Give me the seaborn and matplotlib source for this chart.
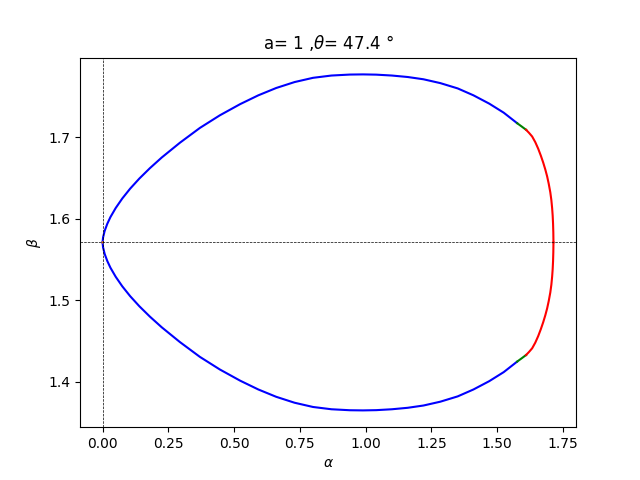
import seaborn as sns
import matplotlib.pyplot as plt
import numpy as np

# blue part, upper and lower branch (same alpha values)
alpha_b = [0.000, 0.002, 0.008, 0.018, 0.030, 0.050, 0.075, 0.105, 0.140, 0.180, 0.225, 0.294,
           0.370, 0.446, 0.523, 0.592, 0.660, 0.730, 0.800, 0.870, 0.940, 0.990, 1.040, 1.100,
           1.160, 1.220, 1.284, 1.350, 1.410, 1.470, 1.525, 1.576]
beta_b_up = [1.5708, 1.5769, 1.5849, 1.5936, 1.6019, 1.6130, 1.6247, 1.6368, 1.6492, 1.6619, 1.6750, 1.6931,
             1.7113, 1.7268, 1.7405, 1.7513, 1.7603, 1.7676, 1.7728, 1.7756, 1.7768, 1.7770, 1.7767, 1.7756,
             1.7738, 1.7710, 1.7663, 1.7598, 1.7513, 1.7411, 1.7300, 1.7171]
beta_b_lo = [1.5708, 1.5647, 1.5567, 1.5480, 1.5397, 1.5286, 1.5169, 1.5048, 1.4924, 1.4797, 1.4666, 1.4485,
             1.4303, 1.4148, 1.4011, 1.3903, 1.3813, 1.3740, 1.3688, 1.3660, 1.3648, 1.3646, 1.3649, 1.3660,
             1.3678, 1.3706, 1.3753, 1.3818, 1.3903, 1.4005, 1.4116, 1.4245]

# short green pieces
alpha_g = [1.576, 1.593, 1.610]
beta_g_up = [1.7171, 1.7131, 1.7090]
beta_g_lo = [1.4245, 1.4285, 1.4326]

# red part near the right end
alpha_r = [1.610, 1.621, 1.633, 1.645, 1.656, 1.666, 1.675, 1.683, 1.690, 1.696, 1.702, 1.706,
           1.709, 1.711, 1.7125, 1.7135, 1.714]
beta_r_up = [1.7090, 1.7053, 1.7008, 1.6938, 1.6858, 1.6773, 1.6688, 1.6603, 1.6518, 1.6428, 1.6323, 1.6228,
             1.6128, 1.6038, 1.5938, 1.5828, 1.5708]
beta_r_lo = [1.4326, 1.4363, 1.4408, 1.4478, 1.4558, 1.4643, 1.4728, 1.4813, 1.4898, 1.4988, 1.5093, 1.5188,
             1.5288, 1.5378, 1.5478, 1.5588, 1.5708]

# tiny orange bit at the cusp
alpha_o = [0.000, 0.001]
beta_o = [1.5708, 1.5710]

a = 1
theta = 47.4

fig, ax = plt.subplots(figsize=(6.4, 4.8), dpi=100)

sns.lineplot(x=alpha_b, y=beta_b_up, sort=False, estimator=None, color='blue', ax=ax)
sns.lineplot(x=alpha_b, y=beta_b_lo, sort=False, estimator=None, color='blue', ax=ax)
sns.lineplot(x=alpha_g, y=beta_g_up, sort=False, estimator=None, color='green', ax=ax)
sns.lineplot(x=alpha_g, y=beta_g_lo, sort=False, estimator=None, color='green', ax=ax)
sns.lineplot(x=alpha_r, y=beta_r_up, sort=False, estimator=None, color='red', ax=ax)
sns.lineplot(x=alpha_r, y=beta_r_lo, sort=False, estimator=None, color='red', ax=ax)
sns.lineplot(x=alpha_o, y=beta_o, sort=False, estimator=None, color='C1', ax=ax)

ax.axhline(np.pi/2, color='k', ls='--', lw=0.5)
ax.axvline(0, color='k', ls='--', lw=0.5)

ax.set_xlabel(r'$\alpha$')
ax.set_ylabel(r'$\beta$')
ax.set_title('a= ' + str(a) + r' ,$\theta$= ' + str(theta) + ' °')

plt.savefig('out.png')
